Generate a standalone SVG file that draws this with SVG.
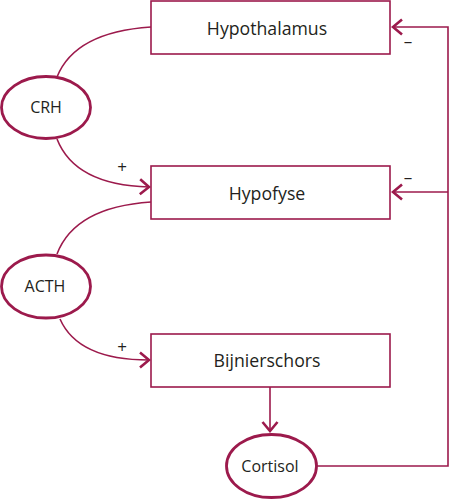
<svg xmlns="http://www.w3.org/2000/svg" width="450" height="500" viewBox="0 0 450 500">
<style>
.box{fill:#fff;stroke:#9c1a4c;stroke-width:1.6}
.ell{fill:#fff;stroke:#9c1a4c;stroke-width:2.8}
.lbl{font-family:"Open Sans","Liberation Sans",sans-serif;font-size:17.7px;fill:#231f20;text-anchor:middle}
.el{font-family:"Open Sans","Liberation Sans",sans-serif;font-size:16px;fill:#231f20;text-anchor:middle}
.sm{font-family:"Open Sans","Liberation Sans",sans-serif;font-size:17px;fill:#231f20;text-anchor:middle}
.ln{fill:none;stroke:#9c1a4c;stroke-width:1.6}
</style>
<defs>
<marker id="arr" markerUnits="userSpaceOnUse" markerWidth="14" markerHeight="20" viewBox="-12 -10 14 20" refX="0" refY="0" orient="auto">
<path d="M-9,-7.5 L0,0 L-9,7.5" fill="none" stroke="#9c1a4c" stroke-width="2.6"/>
</marker>
</defs>
<g id="connectors">
<path class="ln" d="M151,27 Q75,32 57,77"/>
<path class="ln" d="M57,139 Q75,185 149,187" marker-end="url(#arr)"/>
<path class="ln" d="M151,202 Q75,207 57,254"/>
<path class="ln" d="M60,319 Q78,360 149,360" marker-end="url(#arr)"/>
<path class="ln" d="M270,387 L270,431" marker-end="url(#arr)"/>
<path class="ln" d="M317,466 L448,466 L448,27 L393,27" marker-end="url(#arr)"/>
<path class="ln" d="M448,192 L393,192" marker-end="url(#arr)"/>
<text class="sm" x="122" y="173">+</text>
<text class="sm" x="122" y="353">+</text>
<text class="sm" x="408" y="47">–</text>
<text class="sm" x="408" y="183">–</text>
</g>
<g id="hypothalamus">
<rect class="box" x="151" y="1" width="239" height="53"/>
<text class="lbl" x="267" y="35">Hypothalamus</text>
</g>
<g id="hypofyse">
<rect class="box" x="151" y="166" width="239" height="53"/>
<text class="lbl" x="267" y="200">Hypofyse</text>
</g>
<g id="bijnierschors">
<rect class="box" x="151" y="334" width="239" height="53"/>
<text class="lbl" x="267" y="367">Bijnierschors</text>
</g>
<g id="crh">
<ellipse class="ell" cx="46" cy="107.5" rx="44.5" ry="31"/>
<text class="el" x="46" y="113">CRH</text>
</g>
<g id="acth">
<ellipse class="ell" cx="46" cy="286.5" rx="44.5" ry="31.5"/>
<text class="el" x="45" y="292">ACTH</text>
</g>
<g id="cortisol">
<ellipse class="ell" cx="271.5" cy="466" rx="45" ry="31.5"/>
<text class="el" x="270" y="472">Cortisol</text>
</g>
</svg>
